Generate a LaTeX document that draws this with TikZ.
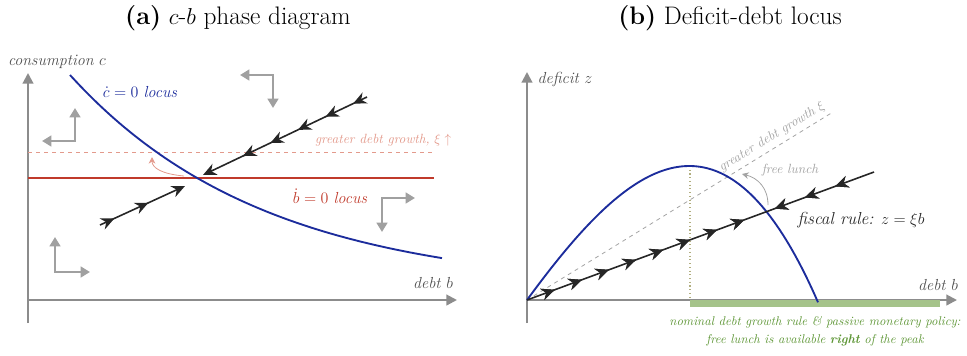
\documentclass[tikz,border=0pt]{standalone}
\usepackage{amsmath}
\usepackage{amssymb}
\usepackage{tikz}
\usetikzlibrary{arrows.meta, decorations.markings}

\definecolor{axisgray}{HTML}{8C8C8C}
\definecolor{labelgray}{HTML}{505050}
\definecolor{phasegray}{HTML}{A0A0A0}
\definecolor{locusblue}{HTML}{1C2C9C}
\definecolor{locusred}{HTML}{C03A2B}
\definecolor{salmon}{HTML}{E39A8C}
\definecolor{lunchgreen}{HTML}{5E9636}
\definecolor{bargreen}{HTML}{A5C38A}

\begin{document}
\begin{tikzpicture}[x=0.75pt, y=-0.75pt, >={Stealth[length=10pt,width=9pt]},
    axis/.style={axisgray, line width=1.6pt, -{Triangle[length=8pt,width=8pt]}},
    phase/.style={phasegray, line width=1.8pt, {Triangle[length=7pt,width=8pt]}-{Triangle[length=7pt,width=8pt]}},
    arm/.style={black!85, line width=1.2pt},
    armmarks/.style={postaction={decorate}, decoration={markings,
        mark=between positions #1 with {\arrow{Stealth[length=10pt,width=9pt]}}}},
    backmarks/.style={postaction={decorate}, decoration={markings,
        mark=between positions #1 with {\arrow{Stealth[length=10pt,width=9pt,reversed]}}}},
    lbl/.style={labelgray, font=\itshape\fontsize{12}{14}\selectfont},
    titletext/.style={font=\fontsize{19}{22}\selectfont}]
    \useasboundingbox (0,0) rectangle (967,355);

    % Titel links und rechts
    \node[titletext] (ta) at (238,18) {\textbf{(a)} $c$-$b$ phase diagram};
    \node[titletext] (tb) at (730,18) {\textbf{(b)} Deficit-debt locus};

    % (a) Achsen
    \coordinate (oa) at (28,300);
    \draw[axis] (28,323) -- (28,73);
    \draw[axis] (oa) -- (457,300);
    \node[lbl] (cl) at (57,62) {consumption $c$};
    \node[lbl] (bla) at (433,283) {debt $b$};

    % b-dot Lokus und Verschiebung
    \draw[salmon, dashed, line width=0.6pt] (28,152) -- (434,152);
    \node[salmon, anchor=east, font=\itshape\fontsize{10}{12}\selectfont] (gr) at (456,140) {greater debt growth, $\xi\uparrow$};
    \draw[locusred, line width=2pt] (28,178) -- (434,178);
    \node[locusred, font=\fontsize{12}{14}\selectfont] (bdot) at (330,196) {$\dot b = 0$ \textit{locus}};
    \draw[salmon, -{Stealth[length=5pt,width=5pt]}, line width=0.6pt] (184,176) .. controls (162,174) and (152,168) .. (152,157);

    % c-dot Lokus
    \draw[locusblue, line width=1.4pt, domain=70:442, samples=100] plot (\x, {290-215*exp(-(\x-70)/195)});
    \node[locusblue, font=\fontsize{12}{14}\selectfont] (cdot) at (140,92) {$\dot c = 0$ \textit{locus}};

    % Sattelpfad
    \coordinate (sa) at (197,178);
    \draw[arm, armmarks={0.085 and 0.8 step 0.168}, ->] (367,97) -- (203,175);
    \draw[arm, armmarks={0.17 and 0.6 step 0.4}, ->] (100,225) -- (185,186);

    % Richtungspfeile
    \draw[phase] (42,141) -- (75,141) -- (75,108);
    \draw[phase] (240,75) -- (273,75) -- (273,108);
    \draw[phase] (415,198) -- (382,198) -- (382,232);
    \draw[phase] (55,237) -- (55,272) -- (90,272);

    % (b) Achsen
    \coordinate (ob) at (527,300);
    \draw[axis] (527,323) -- (527,72);
    \draw[axis] (ob) -- (957,300);
    \fill[bargreen] (690,300) rectangle (940,307);
    \node[lbl] (zl) at (565,79) {deficit $z$};
    \node[lbl] (blb) at (938,285) {debt $b$};

    % hoeheres Schuldenwachstum
    \draw[axisgray!80, dashed, line width=0.6pt] (ob) -- (833,112);
    \node[axisgray!80, rotate=31.6, font=\itshape\fontsize{10}{12}\selectfont] (gg) at (772,137) {greater debt growth $\xi$};
    \draw[gray!60!olive!70, dotted, line width=0.8pt] (690,166) -- (690,300);

    % Defizit-Kurve
    \draw[locusblue, line width=1.4pt, domain=527:818, samples=100]
        plot (\x, {300-264*((\x-527)/290)*(1-(\x-527)/290)*((\x-527)/290+1.5)});

    % Fiskalregel
    \draw[arm, armmarks={0.08 and 0.64 step 0.078}, backmarks={0.75 and 0.93 step 0.087}] (ob) -- (874,172);
    \node[black!85, font=\fontsize{13}{15}\selectfont] (fr) at (861,220) {\textit{fiscal rule:} $z = \xi b$};
    \node[axisgray!80, font=\itshape\fontsize{10}{12}\selectfont] (fl) at (790,170) {free lunch};
    \draw[axisgray!80, -{Stealth[length=5pt,width=5pt]}, line width=0.6pt] (768,205) .. controls (768,188) and (758,178) .. (742,174);

    \node[lunchgreen, align=center, font=\itshape\fontsize{9.5}{13.5}\selectfont] (note) at (815,331)
        {nominal debt growth rule \& passive monetary policy:\\ free lunch is available \textbf{right} of the peak};
\end{tikzpicture}
\end{document}
